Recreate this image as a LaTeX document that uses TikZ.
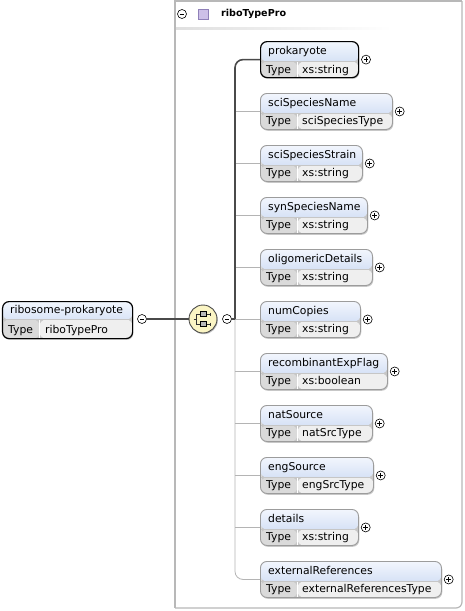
\documentclass[tikz,border=0pt]{standalone}
\usepackage{fontspec}
\setmainfont{DejaVu Sans}
\usetikzlibrary{shadows}
\definecolor{hdTop}{HTML}{F2F6FD}
\definecolor{hdBot}{HTML}{C0D2F0}
\definecolor{lblC}{HTML}{DADADA}
\definecolor{valC}{HTML}{EFEFEF}
\definecolor{seqC}{HTML}{FBF5C4}
\definecolor{optC}{HTML}{9C9C9C}
\definecolor{panelC}{HTML}{B8B8B8}
\definecolor{lineC}{HTML}{4A4A4A}
\definecolor{thinC}{HTML}{B4B4B4}
\definecolor{purC}{HTML}{CDC0E8}
\definecolor{purD}{HTML}{8F80B8}
\tikzset{
  elem/.style={rounded corners=6.5pt, inner sep=0pt, anchor=north west, minimum height=36pt,
    drop shadow={shadow xshift=0.8pt, shadow yshift=-1.3pt, opacity=0.22, fill=black},
    path picture={
      \shade[top color=hdTop, bottom color=hdBot] (path picture bounding box.north west) rectangle ([yshift=-#1pt]path picture bounding box.north east);
      \fill[lblC] ([yshift=-#1pt]path picture bounding box.north west) rectangle ([xshift=37pt]path picture bounding box.south west);
      \fill[valC] ([xshift=37pt,yshift=-#1pt]path picture bounding box.north west) rectangle (path picture bounding box.south east);
      \draw[white, line width=1pt] ([xshift=37pt,yshift=-#1pt]path picture bounding box.north west) -- ([xshift=37pt]path picture bounding box.south west);
      \draw[gray!45, line width=0.5pt] ([yshift=-#1pt]path picture bounding box.north west) -- ([yshift=-#1pt]path picture bounding box.north east);
    }},
  txt/.style={font=\fontsize{10.8}{12}\selectfont, inner sep=0pt, text height=7.8pt, text depth=2.2pt, anchor=west},
  pmc/.style={circle, draw=black, fill=white, line width=0.6pt, minimum size=9pt, inner sep=0pt},
  plusc/.style={pmc, path picture={\draw[line width=0.6pt] ([xshift=-2.4pt]path picture bounding box.center) -- ([xshift=2.4pt]path picture bounding box.center) ([yshift=-2.4pt]path picture bounding box.center) -- ([yshift=2.4pt]path picture bounding box.center);}},
  minusc/.style={pmc, path picture={\draw[line width=0.6pt] ([xshift=-2.4pt]path picture bounding box.center) -- ([xshift=2.4pt]path picture bounding box.center);}},
  thickconn/.style={draw=lineC, line width=1.6pt},
  thinconn/.style={draw=thinC, line width=0.8pt},
  panelln/.style={draw=panelC, line width=1.2pt},
}
\begin{document}
\begin{tikzpicture}[x=1pt, y=-1pt]
\useasboundingbox (0,0) rectangle (464,611);
\fill[white] (0,0) rectangle (464,611);
% panel
\draw[panelln] (462,1) -- (175,1) -- (175,608);
\draw[panelln, rounded corners=6pt] (462,1) -- (462,608) -- (175,608);
\shade[left color=gray!25, right color=white] (176,27.5) rectangle (392,29.5);
\node[minusc] (pmin) at (182,14) {};
\node[draw=purD, fill=purC, minimum size=10pt, inner sep=0pt, line width=0.5pt] (psq) at (203,14) {};
\node[txt, font=\fontsize{9.6}{11}\selectfont\bfseries] (ptitle) at (221,14) {riboTypePro};
% root element
\node[elem=18, draw=black, line width=1.2pt, minimum width=130pt, minimum height=37pt] (root) at (2,301) {};
\node[txt] (root-n) at ([xshift=8pt,yshift=-9.5pt]root.north west) {ribosome-prokaryote};
\node[txt] (root-t) at ([xshift=6pt,yshift=9pt]root.south west) {Type};
\node[txt] (root-v) at ([xshift=43pt,yshift=9pt]root.south west) {riboTypePro};
\node[minusc] (rootm) at (142,319) {};
% sequence compositor
\node[circle, draw=lineC, fill=seqC, minimum size=28pt, inner sep=0pt, line width=0.9pt,
      drop shadow={shadow xshift=0.8pt, shadow yshift=-1.2pt, opacity=0.25, fill=black}] (seq) at (203,319) {};
\foreach \dy in {5,-5}{
  \draw[line width=0.6pt, black!80] ([xshift=-7pt,yshift=\dy pt]seq.center) -- ([xshift=7pt,yshift=\dy pt]seq.center);
  \draw[line width=0.6pt, black!80] ([xshift=7pt,yshift=\dy pt+1.5pt]seq.center) -- ([xshift=7pt,yshift=\dy pt-1.5pt]seq.center);
  \draw[line width=0.5pt, fill=gray!55] ([xshift=-3pt,yshift=\dy pt-2.5pt]seq.center) rectangle ([xshift=3pt,yshift=\dy pt+2.5pt]seq.center);
}
\draw[line width=0.6pt, black!80] ([xshift=-7pt,yshift=5pt]seq.center) -- ([xshift=-7pt,yshift=-5pt]seq.center);
\draw[line width=0.6pt, black!80] ([xshift=-9.5pt]seq.center) -- ([xshift=-7pt]seq.center);
\node[minusc] (seqm) at (227,319) {};
\coordinate (spine) at (235,319);
% child elements
\foreach \nm/\ty/\tp/\rt/\rq [count=\i] in {
  prokaryote/xs:string/41/358/1,
  sciSpeciesName/sciSpeciesType/93/392/0,
  sciSpeciesStrain/xs:string/145/362/0,
  synSpeciesName/xs:string/197/367/0,
  oligomericDetails/xs:string/249/372/0,
  numCopies/xs:string/301/360/0,
  recombinantExpFlag/xs:boolean/353/387/0,
  natSource/natSrcType/405/372/0,
  engSource/engSrcType/457/373/0,
  details/xs:string/509/358/0,
  externalReferences/externalReferencesType/561/441/0}{
  \pgfmathsetmacro\w{\rt-260}
  \ifnum\rq=1 \def\bc{black}\def\bw{1.2pt}\else\def\bc{optC}\def\bw{0.9pt}\fi
  \node[elem=20, draw=\bc, line width=\bw, minimum width=\w pt] (e\i) at (260,\tp) {};
  \node[txt] (e\i-n) at ([xshift=8pt,yshift=-10.5pt]e\i.north west) {\nm};
  \node[txt] (e\i-t) at ([xshift=6pt,yshift=8pt]e\i.south west) {Type};
  \node[txt] (e\i-v) at ([xshift=42pt,yshift=8pt]e\i.south west) {\ty};
  \node[plusc, anchor=west] (p\i) at ([xshift=2pt]e\i.east) {};
}
% connectors
\foreach \i in {2,...,10}{
  \draw[thinconn] (spine |- e\i.west) -- (e\i.west);
}
\draw[thinconn, rounded corners=8pt] (spine) |- (e11.west);
\draw[thickconn, rounded corners=8pt] (spine) |- (e1.west);
\draw[thickconn] (seqm.east) -- (spine);
\draw[thickconn] (rootm.east) -- (seq.west);
\end{tikzpicture}
\end{document}
